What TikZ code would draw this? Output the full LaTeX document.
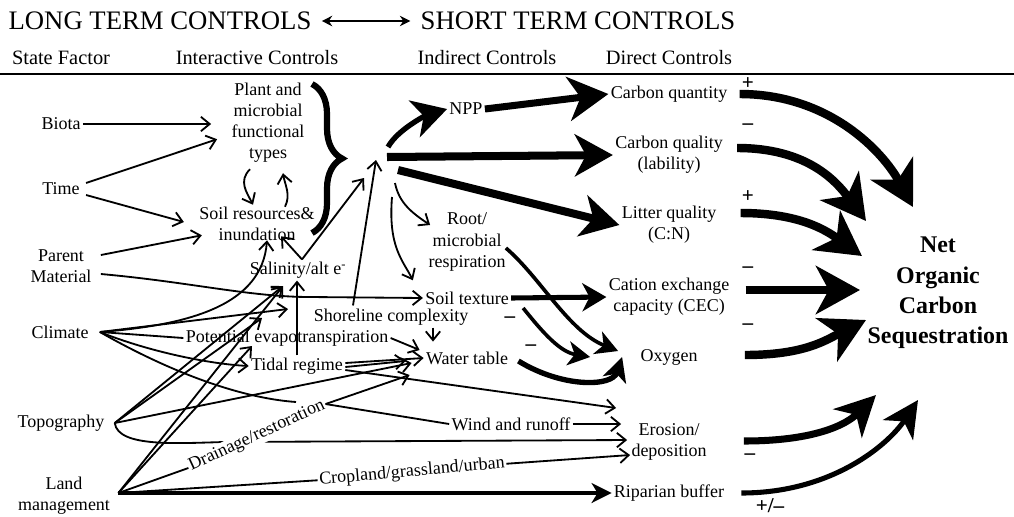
\documentclass[tikz,border=0pt]{standalone}
\usepackage{fontspec}
\setmainfont{Liberation Serif}
\usetikzlibrary{arrows.meta,decorations.pathreplacing,calc}
\newcommand\bodyfs{\fontsize{12.8}{15}\selectfont}
\newcommand\titlefs{\fontsize{19}{22}\selectfont}
\newcommand\hdrfs{\fontsize{14.5}{17}\selectfont}
\newcommand\netfs{\fontsize{17}{21.5}\selectfont\bfseries}
\newcommand\signfs{\fontsize{15}{15}\selectfont\bfseries}
\begin{document}
\begin{tikzpicture}[x=0.025cm,y=-0.025cm,
  every node/.style={font=\bodyfs,inner sep=1.5pt,align=center},
  thinarr/.style={line width=1.3pt,-{Straight Barb[length=2.2mm,width=3.6mm,line width=1.3pt]}},
  thinline/.style={line width=1.3pt},
  bigarr/.style={line width=6pt,-{Stealth[length=11mm,width=12mm,inset=3.2mm]}},
  sign/.style={font=\signfs,inner sep=0pt},
  hdr/.style={font=\hdrfs},
]
\useasboundingbox (0,0) rectangle (1014,516);

% titles
\node[font=\titlefs] (t1) at (160,21) {LONG TERM CONTROLS};
\node[font=\titlefs] (t2) at (578,21) {SHORT TERM CONTROLS};
\draw[line width=1.3pt,{Stealth[length=2.6mm,width=2.6mm]}-{Stealth[length=2.6mm,width=2.6mm]},shorten <=0.2cm,shorten >=0.2cm] (t1.east) -- (t2.west);
\node[hdr] (h1) at (61,58) {State Factor};
\node[hdr] (h2) at (257,58) {Interactive Controls};
\node[hdr] (h3) at (487,58) {Indirect Controls};
\node[hdr] (h4) at (669,58) {Direct Controls};
\draw[line width=1.2pt] (0,74) -- (1014,74);

% state factors
\node (biota) at (61,124) {Biota};
\node (time) at (61,189) {Time};
\node (parent) at (61,266) {Parent\\Material};
\node (climate) at (60,332) {Climate};
\node (topo) at (61,423) {Topography};
\node (land) at (64,496) {Land\\management};

% interactive
\node (plant) at (268,123) {Plant and\\microbial\\functional\\types};
\node (soilres) at (257,224) {Soil resources\&\\inundation};
\node (salinity) at (298,270) {Salinity/alt e\textsuperscript{-}};
\node (shoreline) at (391,317) {Shoreline complexity};
\node (pet) at (287,338) {Potential evapotranspiration};
\node (tidal) at (297,366) {Tidal regime};
\node (wind) at (511,424) {Wind and runoff};

% indirect
\node (npp) at (466,109) {NPP};
\node (root) at (467,242) {Root/\\microbial\\respiration};
\node (soiltex) at (467,298) {Soil texture};
\node (water) at (467,358) {Water table};

% direct
\node (cquant) at (669,94) {Carbon quantity};
\node (cqual) at (669,155) {Carbon quality\\(lability)};
\node (litter) at (669,225) {Litter quality\\(C:N)};
\node (cec) at (669,297) {Cation exchange\\capacity (CEC)};
\node (oxygen) at (669,357) {Oxygen};
\node (erosion) at (669,442) {Erosion/\\deposition};
\node (riparian) at (669,493) {Riparian buffer};

\node[font=\netfs] (net) at (938,293) {Net\\Organic\\Carbon\\Sequestration};

% helper coordinates
\coordinate (hub) at (376,160);
\coordinate (cv) at ($(climate.east)+(9,0)$);
\coordinate (tv) at ($(topo.east)+(8,0)$);
\coordinate (lv) at ($(land.east)+(6,-3)$);
\coordinate (salin) at (283,286);
\coordinate (c2t) at (288,309);
\coordinate (t2e) at (262,318);
\coordinate (l2e) at (252,346);
\coordinate (cend) at (296,402);

% brace
\draw[decorate,decoration={brace,amplitude=0.75cm},line width=4.4pt] (312,84) -- (312,233);

% left side thin arrows
\draw[thinarr] (biota.east) -- ($(biota -| plant.west)+(-18,0)$);
\draw[thinarr] ($(time.east)+(4,-6)$) -- ($(plant.south west)+(-12,-26)$);
\draw[thinarr] ($(time.east)+(4,6)$) -- ($(soilres.west)+(-13,-2)$);
\draw[thinarr] ($(parent.east)+(7,-11)$) -- ($(soilres.south west)+(5,-8)$);
\draw[thinarr] ($(parent.east)+(7,8)$) .. controls (190,282) and (250,297) .. (310,297) -- (soiltex.west);
\draw[thinarr] ($(plant.south)+(-18,4)$) .. controls +(-12,12) and +(-6,-12) .. ($(soilres.north)+(-4,0)$);
\draw[thinarr] ($(soilres.north)+(28,2)$) .. controls +(6,-12) and +(2,12) .. ($(plant.south)+(15,8)$);

% climate
\draw[thinarr] (cv) .. controls (190,325) and (262,305) .. ($(soilres.south)+(10,-3)$);
\draw[thinarr] (cv) -- (c2t);
\draw[thinline] (cv) -- (pet.west);
\draw[thinarr] (cv) .. controls (150,352) and (210,364) .. (tidal.west);
\draw[thinline] (cv) .. controls (170,372) and (240,398) .. (cend);

% topography
\draw[thinarr] (tv) -- (salin);
\draw[thinarr] (tv) -- (t2e);
\draw[thinarr] (tv) -- ($(water.west)+(-12,5)$);
\draw[thinarr] (tv) .. controls (118,448) and (180,443) .. (225,442) -- ($(erosion.west)+(-2,-2)$);

% land management
\draw[thinarr] (lv) -- (salin);
\draw[thinarr] (lv) -- (l2e);
\draw[line width=2.2pt,-{Stealth[length=5mm,width=5mm,inset=1.5mm]}] (lv) -- (riparian.west);

% rotated labels drawn over lines
\node[fill=white,rotate=25,inner sep=1pt] (drainage) at (257,436) {Drainage/restoration};
\node[fill=white,rotate=5,inner sep=1pt] (cropland) at (412,472) {Cropland/grassland/urban};
\draw[thinline] (lv) -- (drainage.west);
\draw[thinline] (lv) -- (cropland.west);
\draw[thinarr] (drainage.east) -- ($(water.west)+(-14,17)$);
\draw[thinline] (drainage.east) -- (wind.west);
\draw[thinarr] (wind.east) -- ($(erosion.west)+(-8,-18)$);
\draw[thinarr] (cropland.east) -- ($(erosion.west)+(1,13)$);

% tidal, pet, shoreline, salinity
\draw[thinarr] (tidal.north) -- (tidal.north |- salinity.south);
\draw[thinarr] ($(tidal.east)+(0,-3)$) -- (water.west);
\draw[thinarr] ($(tidal.east)+(0,1)$) -- ($(water.west)+(-18,3)$);
\draw[thinarr] ($(tidal.east)+(0,4)$) -- ($(erosion.west)+(-13,-34)$);
\draw[thinarr] (pet.east) -- ($(water.west)+(-4,-8)$);
\draw[thinarr] ($(shoreline.south)+(42,0)$) -- ++(0,14);
\draw[thinarr] ($(shoreline.north)+(-38,-1)$) -- (hub);
\draw[thinarr] ($(salinity.north)+(4,0)$) -- ($(soilres.south)+(24,-7)$);
\draw[thinarr] ($(salinity.north)+(4,0)$) -- ($(hub)+(-12,18)$);

% from hub
\draw[line width=3.8pt,-{Stealth[length=8.5mm,width=9.5mm,inset=2.4mm]}] ($(hub)+(12,-13)$) .. controls +(10,-18) and +(-20,6) .. (npp.west);
\draw[line width=5pt,-{Stealth[length=10mm,width=11mm,inset=3mm]}] (npp.east) -- (cquant.west);
\draw[line width=5.7pt,-{Stealth[length=9.5mm,width=10.5mm,inset=2.8mm]}] ($(hub)+(11,-3)$) -- (cqual.west);
\draw[line width=5.7pt,-{Stealth[length=9.5mm,width=10.5mm,inset=2.8mm]}] ($(hub)+(22,10)$) -- (litter.west);
\draw[thinarr] ($(hub)+(19,23)$) .. controls +(4,20) and +(-18,-12) .. ($(root.west)+(4,-17)$);
\draw[thinarr] ($(hub)+(16,37)$) .. controls +(-4,50) and +(-10,-20) .. ($(soiltex.north west)+(-10,-9)$);

% indirect -> direct
\draw[line width=3.6pt,-{Stealth[length=6mm,width=7mm,inset=1.8mm]}] (soiltex.east) -- (cec.west);
\draw[line width=2.6pt,-{Stealth[length=5.5mm,width=6mm,inset=1.6mm]}] ($(root.east)+(-2,6)$) .. controls +(35,30) and +(-50,-20) .. ($(oxygen.west)+(-20,-6)$);
\draw[line width=2.6pt,-{Stealth[length=5.5mm,width=6mm,inset=1.6mm]}] ($(soiltex.east)+(12,10)$) .. controls +(20,25) and +(-30,-5) .. ($(oxygen.west)+(-48,0)$);
\draw[line width=3.8pt,-{Stealth[length=6mm,width=6mm,inset=1.6mm]}] ($(water.east)+(8,3)$) .. controls +(44,27) and +(-10,30) .. ($(oxygen.west)+(-16,0)$);
\node[sign] (m1) at (510,320) {–};
\node[sign] (m2) at (531,348) {–};

% direct -> net
\draw[bigarr] ($(cquant.east)+(10,0)$) .. controls +(90,0) and +(-30,-55) .. ($(net.center)+(-25,-86)$);
\draw[bigarr] ($(cqual.east)+(12,-7)$) .. controls +(70,0) and +(-30,-40) .. ($(net.center)+(-72,-72)$);
\draw[bigarr] ($(litter.east)+(22,-12)$) .. controls +(60,0) and +(-35,-25) .. ($(net.center)+(-76,-37)$);
\draw[bigarr] ($(cec.east)+(14,-7)$) -- ($(net.center)+(-78,-3)$);
\draw[bigarr] ($(oxygen.east)+(45,-2)$) .. controls +(60,0) and +(-40,20) .. ($(net.center)+(-72,27)$);
\draw[line width=5pt,-{Stealth[length=10mm,width=10mm,inset=3mm]}] ($(erosion.east)+(35,-1)$) .. controls +(70,0) and +(-30,30) .. ($(net.center)+(-62,102)$);
\draw[line width=3.6pt,-{Stealth[length=9mm,width=9mm,inset=2.6mm]}] ($(riparian.east)+(15,0)$) .. controls +(90,0) and +(-30,45) .. ($(net.center)+(-20,107)$);

\node[sign] (s1) at (748,84) {+};
\node[sign] (s2) at (748,127) {–};
\node[sign] (s3) at (748,197) {+};
\node[sign] (s4) at (748,270) {–};
\node[sign] (s5) at (748,327) {–};
\node[sign] (s6) at (750,457) {–};
\node[sign] (s7) at (770,506) {+/–};
\end{tikzpicture}
\end{document}
